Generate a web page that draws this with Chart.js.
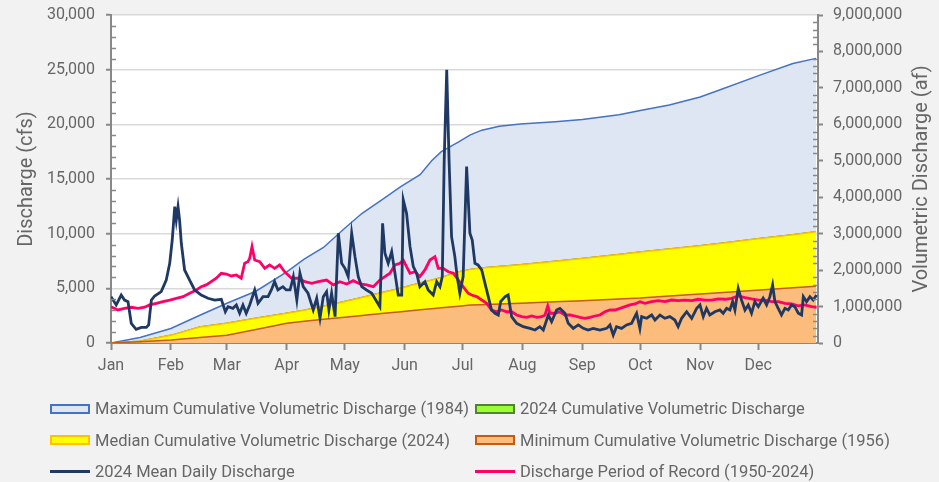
<!DOCTYPE html>
<html>
<head>
<meta charset="utf-8">
<script src="https://cdn.jsdelivr.net/npm/chart.js@4.4.1/dist/chart.umd.min.js"></script>
<style>
  html, body { margin: 0; padding: 0; background: #f2f2f2; }
  #wrap { position: relative; width: 939px; height: 482px; background: #f2f2f2; font-family: Roboto, sans-serif; }
  #legend { position: absolute; left: 0; top: 0; width: 939px; height: 482px; pointer-events: none; }
  .item { position: absolute; display: flex; align-items: center; font-size: 16.5px; color: #666; white-space: nowrap; height: 20px; }
  .box { width: 36px; height: 6px; border: 2px solid; margin-right: 5px; }
  .line { width: 40px; height: 3px; margin-right: 5px; }
</style>
</head>
<body>
<div id="wrap">
  <canvas id="myChart" width="939" height="482"></canvas>
  <div id="legend"></div>
</div>
<script>
// month ticks (day of year, 2024 is a leap year)
const months = ['Jan', 'Feb', 'Mar', 'Apr', 'May', 'Jun', 'Jul', 'Aug', 'Sep', 'Oct', 'Nov', 'Dec'];
const monthStart = [0, 31, 60, 91, 121, 152, 182, 213, 244, 274, 305, 335];

// 2024 mean daily discharge (cfs)
const dailyDay = [0, 2.7, 5.3, 7, 8.8, 10.5, 13, 15.7, 18.3, 19.5, 20.9, 22.6, 26, 28.6, 30.4, 31.7, 33, 33.8, 34.7, 35.5, 36.4, 38.1, 40.7, 43.3, 46.7, 50.2, 53.7, 57.1, 59.2, 60.6, 63.1, 64.9, 66.6, 68.3, 70, 71.8, 74.4, 76.1, 78.7, 81.3, 83, 84.7, 86.4, 89, 90.7, 92.7, 94.4, 96.2, 97.8, 99.5, 102, 104.7, 106.5, 108.2, 109.9, 111.6, 112.8, 114.2, 116, 117.7, 119.4, 121.1, 122.8, 124.6, 126.3, 128, 129.8, 132.3, 135, 137.6, 139.2, 140.6, 141.8, 143.5, 145.3, 147, 148.7, 150.5, 151.3, 153, 154.8, 156.5, 158.2, 159.9, 162.5, 164.2, 166.8, 168.6, 170.3, 171.5, 172.5, 173.8, 175, 176.3, 178, 179.2, 180.6, 182.3, 184.1, 185.8, 187, 188.4, 190, 191.9, 193.6, 195.3, 197, 198.8, 200.5, 201.7, 204, 205.6, 207.4, 210, 213.4, 216.9, 219.5, 222, 223.8, 226.4, 228.1, 230.7, 232.4, 235, 236.7, 239.3, 241.9, 244.5, 247, 249.6, 253.1, 256.6, 258.3, 260, 261.7, 264.3, 266.9, 269.5, 271.2, 272.1, 273.8, 274.7, 277.3, 279.9, 281.6, 284.2, 286.7, 289.3, 291.9, 293.6, 295.4, 298, 300.6, 303.2, 304.9, 306.6, 308.3, 310, 312.6, 315.2, 316.9, 318.7, 320.4, 321.8, 323, 324.7, 326.4, 328.2, 329.9, 331.6, 333.3, 335.1, 337.6, 339.4, 341.1, 342.5, 343.7, 345.4, 347.1, 348.9, 350.6, 352.3, 354, 355.8, 357.5, 358.4, 360.1, 361.8, 363.5, 365.3];
const dailyCfs = [4240, 3480, 4390, 3930, 3780, 1800, 1250, 1430, 1430, 1650, 3930, 4300, 4700, 5760, 7290, 9420, 12470, 11250, 12470, 11250, 9120, 6680, 5760, 4850, 4390, 4090, 3930, 4000, 2860, 3320, 3170, 3480, 2720, 3480, 2720, 3480, 4850, 3630, 4240, 4240, 4850, 5610, 4850, 5150, 4850, 4850, 6070, 3930, 6380, 5150, 4550, 3020, 4090, 2260, 4240, 4700, 3020, 4550, 2410, 10040, 7290, 6830, 6070, 10040, 7900, 6070, 5150, 4850, 4550, 3780, 3320, 10950, 8210, 7290, 8360, 6380, 4390, 4390, 13090, 11870, 8810, 6980, 6380, 5150, 5610, 4850, 4390, 5610, 5150, 6070, 16750, 24980, 16750, 9730, 7900, 6070, 4550, 6070, 16130, 10040, 9420, 7290, 7140, 6680, 5460, 4240, 3020, 2720, 2560, 3780, 4240, 4390, 2410, 1800, 1490, 1340, 1190, 1490, 1190, 2560, 1950, 3020, 3170, 2720, 1800, 1340, 1650, 1340, 1190, 1340, 1190, 1340, 1650, 730, 1490, 1340, 1650, 1800, 2410, 2720, 1340, 2410, 2260, 2560, 2100, 2560, 2260, 2410, 2100, 1490, 2260, 2860, 2260, 3170, 3480, 2410, 3170, 2560, 2860, 3020, 2720, 3170, 3020, 3780, 3020, 5000, 3930, 3020, 3480, 2720, 3780, 3320, 4090, 3480, 4240, 5310, 3780, 3170, 2560, 3170, 3020, 3480, 3320, 2720, 2560, 4240, 3780, 4240, 3930, 4390];

// discharge period of record (cfs)
const recordDay = [0, 3.6, 7, 10.5, 14, 17.4, 20, 23.5, 26.9, 30.4, 33.8, 37.3, 40.7, 44.2, 46.7, 49.3, 51.9, 54.5, 57.1, 59.7, 62.3, 64.9, 67.4, 69.2, 70.9, 71.8, 73, 74.4, 77, 79.6, 82.1, 84.7, 87.3, 89.9, 93.5, 96.9, 100.4, 103.9, 107.3, 111.6, 115.1, 118.5, 122, 125.4, 128.9, 132.3, 135.8, 139.2, 141.8, 144.4, 147, 149.6, 151.3, 153, 154.8, 157.4, 159.9, 162.5, 165.1, 167.7, 169.4, 172, 174.6, 177.2, 179.8, 182.3, 184.9, 186.7, 189.3, 191.9, 194.5, 197, 199.6, 202.2, 204.8, 207.4, 210, 212.6, 215.2, 217.8, 220.4, 223, 224.7, 226.1, 227.2, 229.8, 232.4, 235, 237.6, 240.2, 242.8, 245.3, 247.9, 250.5, 253.1, 255.7, 258.3, 260.9, 263.5, 266.1, 268.7, 271.2, 273.8, 276.4, 279.9, 283.3, 286.7, 290.2, 293.6, 297.1, 300.6, 304, 307.5, 310.9, 314.4, 317.9, 321.3, 324.7, 328.2, 331.6, 335.1, 338.5, 342, 345.4, 348.9, 352.3, 355.8, 359.2, 362.7, 365.3];
const recordCfs = [3320, 3020, 3170, 3270, 3170, 3270, 3480, 3630, 3780, 3930, 4090, 4240, 4550, 4850, 5150, 5310, 5610, 5920, 6380, 6310, 6130, 6220, 5920, 7290, 7440, 7750, 8810, 7590, 7440, 6830, 7140, 6830, 7140, 6520, 5920, 5920, 5610, 5460, 5610, 5760, 5310, 5610, 5400, 5700, 5400, 5310, 5150, 5760, 6070, 6380, 7140, 7290, 7590, 6980, 6380, 6520, 6070, 6680, 7590, 7900, 6830, 6830, 6520, 6380, 5760, 5150, 4550, 4390, 4240, 3930, 3630, 3020, 2860, 3020, 2860, 2860, 2560, 2410, 2350, 2470, 2350, 2410, 2560, 3390, 2720, 2720, 2860, 2560, 2560, 2470, 2350, 2260, 2350, 2470, 2560, 2860, 3020, 3020, 3170, 3320, 3480, 3570, 3780, 3630, 3780, 3870, 3780, 3930, 3870, 3930, 3870, 4000, 3930, 3930, 4030, 4000, 4090, 4300, 4150, 4030, 3930, 3930, 3780, 3780, 3630, 3570, 3390, 3480, 3320, 3270];

// cumulative volumetric discharge (af)
const cumDay = [0, 15, 31, 46, 60, 75, 91, 100, 110, 121, 130, 140, 150, 160, 166, 171, 180, 186, 192, 201, 212, 230, 244, 263, 274, 289, 305, 315, 336, 353, 365];
const maxAf = [0, 150000, 400000, 760000, 1090000, 1420000, 1950000, 2300000, 2620000, 3150000, 3560000, 3920000, 4290000, 4620000, 5000000, 5250000, 5520000, 5710000, 5840000, 5950000, 6010000, 6070000, 6130000, 6260000, 6380000, 6530000, 6750000, 6940000, 7350000, 7670000, 7810000];
const medianAf = [0, 50000, 210000, 440000, 540000, 680000, 815000, 900000, 1010000, 1140000, 1250000, 1380000, 1500000, 1650000, 1720000, 1800000, 1950000, 2020000, 2060000, 2100000, 2150000, 2240000, 2320000, 2430000, 2500000, 2580000, 2670000, 2730000, 2870000, 2970000, 3050000];
const cum2024Af = medianAf; // 2024 is the median year
const minAf = [0, 35000, 85000, 150000, 210000, 370000, 540000, 600000, 650000, 705000, 755000, 810000, 860000, 910000, 940000, 965000, 1010000, 1040000, 1050000, 1070000, 1090000, 1130000, 1160000, 1210000, 1235000, 1290000, 1345000, 1380000, 1455000, 1515000, 1560000];

const pts = (xs, ys) => xs.map((x, i) => ({ x: x, y: ys[i] }));

const font = { family: 'Roboto', size: 16 };
const grey = '#666';

const extras = {
  id: 'extras',
  beforeDraw(chart) {
    const { ctx, chartArea: a } = chart;
    ctx.save();
    ctx.fillStyle = '#ffffff';
    ctx.fillRect(a.left, a.top, a.right - a.left, a.bottom - a.top);
    ctx.restore();
  },
  afterDatasetsDraw(chart) {
    const { ctx, chartArea: a } = chart;
    const yl = chart.scales.y, yr = chart.scales.y1;
    ctx.save();
    ctx.strokeStyle = '#888';
    ctx.lineWidth = 1.5;
    ctx.beginPath();
    for (let v = 0; v <= 30000; v += 1000) {
      if (v % 5000 === 0) continue;
      const p = Math.round(yl.getPixelForValue(v)) + 0.5;
      ctx.moveTo(a.left, p); ctx.lineTo(a.left + 5, p);
    }
    for (let v = 0; v <= 9000000; v += 200000) {
      if (v % 1000000 === 0) continue;
      const p = Math.round(yr.getPixelForValue(v)) + 0.5;
      ctx.moveTo(a.right - 5, p); ctx.lineTo(a.right, p);
    }
    ctx.stroke();
    // right axis title, reading bottom to top
    ctx.translate(922, (a.top + a.bottom) / 2);
    ctx.rotate(-Math.PI / 2);
    ctx.fillStyle = grey;
    ctx.font = '20px Roboto';
    ctx.textAlign = 'center';
    ctx.textBaseline = 'middle';
    ctx.fillText('Volumetric Discharge (af)', 0, 0);
    ctx.restore();
  }
};

const ctx = document.getElementById('myChart').getContext('2d');
const myChart = new Chart(ctx, {
  type: 'line',
  data: {
    datasets: [{
      label: '2024 Mean Daily Discharge',
      data: pts(dailyDay, dailyCfs),
      yAxisID: 'y',
      borderColor: '#1f3864',
      borderWidth: 2.8,
      pointRadius: 0,
      fill: false
    }, {
      label: 'Discharge Period of Record (1950-2024)',
      data: pts(recordDay, recordCfs),
      yAxisID: 'y',
      borderColor: '#ff0066',
      borderWidth: 2.8,
      pointRadius: 0,
      fill: false
    }, {
      label: 'Minimum Cumulative Volumetric Discharge (1956)',
      data: pts(cumDay, minAf),
      yAxisID: 'y1',
      borderColor: '#c55a11',
      backgroundColor: '#fcbc7c',
      borderWidth: 1.5,
      pointRadius: 0,
      fill: 'origin'
    }, {
      label: 'Median Cumulative Volumetric Discharge (2024)',
      data: pts(cumDay, medianAf),
      yAxisID: 'y1',
      borderColor: '#ffc000',
      backgroundColor: '#ffff00',
      borderWidth: 1.5,
      pointRadius: 0,
      fill: 'origin'
    }, {
      label: '2024 Cumulative Volumetric Discharge',
      data: pts(cumDay, cum2024Af),
      yAxisID: 'y1',
      borderColor: '#548235',
      backgroundColor: '#99ff33',
      borderWidth: 1.5,
      pointRadius: 0,
      fill: 'origin'
    }, {
      label: 'Maximum Cumulative Volumetric Discharge (1984)',
      data: pts(cumDay, maxAf),
      yAxisID: 'y1',
      borderColor: '#4472c4',
      backgroundColor: '#dfe6f3',
      borderWidth: 1.5,
      pointRadius: 0,
      fill: 'origin'
    }]
  },
  options: {
    responsive: false,
    animation: false,
    layout: { padding: { top: 15, left: 0, right: 0, bottom: 0 } },
    plugins: { legend: { display: false }, tooltip: { enabled: false } },
    scales: {
      x: {
        type: 'linear',
        min: 0,
        max: 366,
        afterFit(scale) { scale.height = 139; },
        afterBuildTicks(scale) { scale.ticks = monthStart.map(v => ({ value: v })); },
        ticks: {
          autoSkip: false,
          maxRotation: 0,
          padding: 6,
          color: grey,
          font: font,
          callback: (v) => months[monthStart.indexOf(v)]
        },
        grid: { drawOnChartArea: false, tickLength: 7, tickColor: '#888', tickWidth: 2 },
        border: { color: '#888', width: 2 }
      },
      y: {
        position: 'left',
        min: 0,
        max: 30000,
        afterFit(scale) { scale.width = 111; scale.paddingTop = 0; scale.paddingBottom = 0; },
        ticks: {
          stepSize: 5000,
          padding: 11,
          color: grey,
          font: font,
          callback: (v) => v.toLocaleString('en-US')
        },
        grid: { color: '#d9d9d9', lineWidth: 1.5, tickLength: 5, tickColor: '#888', tickWidth: 2 },
        border: { color: '#888', width: 2 },
        title: {
          display: true,
          text: 'Discharge (cfs)',
          color: grey,
          font: { family: 'Roboto', size: 20 },
          padding: { top: 15, bottom: 0 }
        }
      },
      y1: {
        position: 'right',
        min: 0,
        max: 9000000,
        afterFit(scale) { scale.width = 121; scale.paddingTop = 0; scale.paddingBottom = 0; },
        ticks: {
          stepSize: 1000000,
          padding: 10,
          color: grey,
          font: font,
          callback: (v) => v.toLocaleString('en-US')
        },
        grid: { drawOnChartArea: false, tickLength: 5, tickColor: '#888', tickWidth: 2 },
        border: { color: '#888', width: 2 }
      }
    }
  },
  plugins: [extras]
});

// legend: two columns, three rows
const legendItems = [
  { text: 'Maximum Cumulative Volumetric Discharge (1984)', kind: 'box', fill: '#dfe6f3', stroke: '#4472c4' },
  { text: '2024 Cumulative Volumetric Discharge', kind: 'box', fill: '#99ff33', stroke: '#548235' },
  { text: 'Median Cumulative Volumetric Discharge (2024)', kind: 'box', fill: '#ffff00', stroke: '#ffc000' },
  { text: 'Minimum Cumulative Volumetric Discharge (1956)', kind: 'box', fill: '#fcbc7c', stroke: '#c55a11' },
  { text: '2024 Mean Daily Discharge', kind: 'line', stroke: '#1f3864' },
  { text: 'Discharge Period of Record (1950-2024)', kind: 'line', stroke: '#ff0066' }
];
const colX = [50, 475];
const rowY = [408.5, 440, 471];
const legend = document.getElementById('legend');
legendItems.forEach((it, i) => {
  const d = document.createElement('div');
  d.className = 'item';
  d.style.left = colX[i % 2] + 'px';
  d.style.top = (rowY[Math.floor(i / 2)] - 10) + 'px';
  const m = document.createElement('span');
  if (it.kind === 'box') {
    m.className = 'box';
    m.style.background = it.fill;
    m.style.borderColor = it.stroke;
  } else {
    m.className = 'line';
    m.style.background = it.stroke;
  }
  d.appendChild(m);
  const t = document.createElement('span');
  t.textContent = it.text;
  d.appendChild(t);
  legend.appendChild(d);
});
</script>
</body>
</html>
